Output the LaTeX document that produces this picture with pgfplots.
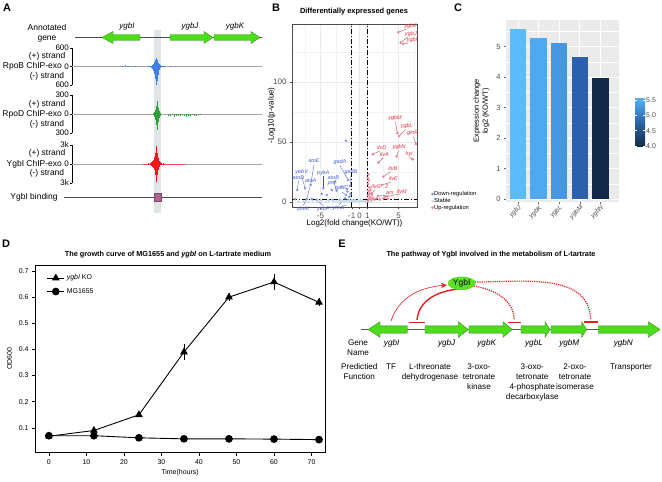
\documentclass[border=0pt]{standalone}
\usepackage{pgfplots}
\pgfplotsset{compat=1.18}
\usepackage{fontspec}
\setmainfont{Liberation Sans}
\setsansfont{Liberation Sans}
\usetikzlibrary{arrows.meta}
\definecolor{ggreen}{HTML}{4BDD1A}
\definecolor{ggreendk}{HTML}{2E8B12}
\definecolor{rpob}{HTML}{3F7FE6}
\definecolor{rpod}{HTML}{2E9E3A}
\definecolor{ygbired}{HTML}{F01818}
\definecolor{bandgray}{HTML}{DFE4E7}
\definecolor{downc}{HTML}{8796E2}
\definecolor{stablec}{HTML}{C9DEEA}
\definecolor{upc}{HTML}{F08298}
\definecolor{labblue}{HTML}{4A62D8}
\definecolor{labred}{HTML}{E23040}
\definecolor{ggpanel}{HTML}{EBEBEB}
\definecolor{gray30}{HTML}{4D4D4D}
\definecolor{barJ}{HTML}{5ABDF9}
\definecolor{barK}{HTML}{4EA9F0}
\definecolor{barL}{HTML}{4597E1}
\definecolor{barM}{HTML}{2A60AC}
\definecolor{barN}{HTML}{13294A}
\definecolor{pathred}{HTML}{E41E1E}
\definecolor{ygbiell}{HTML}{5EE022}
\definecolor{bindbox}{HTML}{B0628F}
\newcommand{\fsz}[1]{\fontsize{#1}{#1}\selectfont}
\newcommand{\garrow}[5]{%
  \filldraw[fill=ggreen, draw=ggreendk, line width=0.35pt]
   (#1,{-#4+0.47*#5}) -- (#2,{-#4+0.47*#5}) -- (#2,{-#4+#5}) -- (#3,{-#4}) --
   (#2,{-#4-#5}) -- (#2,{-#4-0.47*#5}) -- (#1,{-#4-0.47*#5}) -- cycle;}
\pgfplotsset{every axis/.append style={/pgf/number format/assume math mode=true},
  track/.style={scale only axis, width=190bp, xmin=72, xmax=262, hide x axis,
    axis y line*=left, tick align=outside, major tick length=2bp,
    ytick style={black, line width=0.4pt}, y axis line style={line width=0.4pt},
    yticklabel style={font=\fsz{8}, inner sep=1pt}}}
\begin{document}
\begin{tikzpicture}[x=1bp, y=1bp]
\path[use as bounding box, fill=white] (0,0) rectangle (662,-482);
%================ Panel A
\node[font=\fsz{11}\bfseries] at (7,-8) {A};
\fill[bandgray] (154,-30) rectangle (160.5,-213);
\draw[gray!60!black, line width=0.5pt] (75,-37.5) -- (262,-37.5);
\garrow{140}{113}{102}{37.5}{6}
\garrow{170}{204}{213}{37.5}{6}
\garrow{214}{251}{260}{37.5}{6}
\node[font=\fsz{8}\itshape] at (127,-26) {ygbI};
\node[font=\fsz{8}\itshape] at (190,-26) {ygbJ};
\node[font=\fsz{8}\itshape] at (235,-26) {ygbK};
\node[font=\fontsize{8.5}{10}\selectfont, align=center] at (47,-33) {Annotated\\gene};
% RpoB
\begin{axis}[track, at={(72bp,-85bp)}, anchor=south west, height=37bp, ymin=-600, ymax=600,
  ytick={-600,0,600}, yticklabels={600,0,600}]
\addplot[gray!70, line width=0.6pt] coordinates {(72,0) (262,0)};
\addplot[ycomb, rpob, line width=1bp] coordinates {(120,25)(122,15)(125,40)(127,12)(128,22)(131,30)(134,10)(135,18)(138,10)(148,10)(150,22)(151,30)(152,45)(153,75)(154,130)(155,210)(156,290)(157,210)(158,120)(159,70)(160,35)(161,20)(162,12)(165,8)};
\addplot[ycomb, rpob, line width=1bp] coordinates {(149,-15)(150,-25)(151,-40)(152,-70)(153,-130)(154,-250)(155,-420)(156,-600)(157,-470)(158,-260)(159,-120)(160,-60)(161,-30)(163,-15)(170,-8)(175,-10)};
\end{axis}
\node[font=\fsz{8.5}] at (47,-56.5) {(+) strand};
\node[font=\fsz{8.5}, anchor=east, inner sep=0pt] at (62,-66) {RpoB ChIP-exo};
\node[font=\fsz{8.5}] at (47,-76) {(-) strand};
% RpoD
\begin{axis}[track, at={(72bp,-133bp)}, anchor=south west, height=38bp, ymin=-300, ymax=300,
  ytick={-300,0,300}, yticklabels={300,0,300}]
\addplot[gray!70, line width=0.6pt] coordinates {(72,0) (262,0)};
\addplot[ycomb, rpod, line width=1bp] coordinates {(153,15)(154,30)(155,60)(156,120)(157,200)(158,100)(159,45)(160,20)};
\addplot[ycomb, rpod, line width=1bp] coordinates {(153,-20)(154,-40)(155,-90)(156,-170)(157,-260)(158,-130)(159,-60)(160,-25)(168,-25)(170,-35)(172,-20)(174,-40)(176,-30)(178,-25)(180,-35)(182,-20)(184,-30)(186,-40)(188,-25)(190,-30)(192,-20)(194,-35)(196,-25)(198,-20)(200,-15)};
\end{axis}
\node[font=\fsz{8.5}] at (47,-104) {(+) strand};
\node[font=\fsz{8.5}, anchor=east, inner sep=0pt] at (62,-114.3) {RpoD ChIP-exo};
\node[font=\fsz{8.5}] at (47,-124) {(-) strand};
% YgbI
\begin{axis}[track, at={(72bp,-183bp)}, anchor=south west, height=38bp, ymin=-3000, ymax=3000,
  ytick={-3000,0,3000}, yticklabels={3k,0,3k}]
\addplot[gray!70, line width=0.6pt] coordinates {(72,0) (262,0)};
\addplot[ygbired!80, line width=0.6pt] coordinates {(143,0) (185,0)};
\addplot[ycomb, ygbired, line width=1bp] coordinates {(148,100)(150,200)(151,300)(152,450)(153,700)(154,1100)(155,1800)(156,2900)(157,1700)(158,950)(159,550)(160,300)(161,180)(163,100)};
\addplot[ycomb, ygbired, line width=1bp] coordinates {(148,-80)(150,-180)(151,-280)(152,-420)(153,-650)(154,-1000)(155,-1700)(156,-2900)(157,-1800)(158,-900)(159,-450)(160,-220)(161,-120)(163,-60)};
\end{axis}
\node[font=\fsz{8.5}] at (47,-153.3) {(+) strand};
\node[font=\fsz{8.5}, anchor=east, inner sep=0pt] at (62,-164.3) {YgbI ChIP-exo};
\node[font=\fsz{8.5}] at (47,-173.3) {(-) strand};
% binding
\draw[gray!60!black, line width=0.5pt] (64,-197) -- (262,-197);
\filldraw[fill=bindbox, draw=bindbox!70!black, line width=0.3pt] (154,-193) rectangle (161,-201);
\node[font=\fsz{8.5}] at (34,-197) {YgbI binding};
%================ Panel B
\node[font=\fsz{11}\bfseries] at (276,-8) {B};
\node[font=\fsz{7.5}\bfseries] at (354,-12) {Differentially expressed genes};
\begin{axis}[at={(292bp,-207bp)}, anchor=south west, scale only axis, width=125bp, height=183bp,
  xmin=-8.65, xmax=7.37, ymin=-4.2, ymax=148.3, clip=false,
  xtick={-5,-1,0,1,5}, ytick={0,50,100}, minor xtick={-7,-3,3,7}, minor ytick={25,75,125},
  grid=both, major grid style={ggpanel, line width=0.5pt}, minor grid style={ggpanel!60, line width=0.3pt},
  axis line style={gray!60!black, line width=0.5pt}, tick style={gray!60!black, line width=0.4pt},
  tick align=outside, tick pos=left, major tick length=2bp, minor tick length=0pt,
  ticklabel style={font=\fsz{8}, text=gray30},
  xlabel={Log2(fold change(KO/WT))}, ylabel={-Log10(p-value)},
  label style={font=\fsz{8}}, xlabel shift=-5bp, ylabel shift=-9bp,
  legend style={at={(1.09,-0.035)}, anchor=south west, draw=none, fill=none,
    font=\fsz{5.8}, row sep=0pt, nodes={inner sep=0.6pt}},
  legend cell align=left]
\addplot[only marks, mark=*, mark size=1.1, downc] coordinates {(-6.99,11.4)(-6.26,14.2)(-7.97,10)(-8.27,2.3)(-6.77,2.3)(-6.13,2.5)(-5.49,1.7)(-4.85,6.7)(-4.21,5.8)(-3.56,10)(-2.92,9.4)(-2.28,12.8)(-1.73,5.8)(-1.56,8.6)(-1.31,4.4)(-1.86,3.1)(-1.44,1.7)(-1.15,6.7)(-2.5,1.7)(-3.44,1.7)(-1.73,51.1)(-3.14,16.9)(-4.64,11.4)(-1.47,18.3)(-1.22,13.3)(-1.6,10.8)};
\addlegendentry{Down-regulation}
\addplot[only marks, mark=*, mark size=1.1, stablec] coordinates {(-7.8,0.3)(-7.2,0.6)(-6.5,0.2)(-6.0,0.9)(-5.4,0.4)(-4.8,0.7)(-4.3,0.2)(-3.9,1.0)(-3.4,0.5)(-3.0,0.8)(-2.7,0.3)(-2.4,1.1)(-2.1,0.6)(-1.9,0.2)(-1.7,0.9)(-1.5,0.4)(-1.3,1.2)(-1.1,0.7)(-0.9,0.3)(-0.7,1.0)(-0.5,0.5)(-0.3,0.9)(-0.1,0.2)(0.1,0.6)(0.3,1.1)(0.5,0.4)(0.7,0.8)(0.9,0.2)(1.1,0.5)(1.3,0.9)(1.6,0.3)(-0.6,2.0)(0.2,1.8)(-1.0,1.6)(-4,1.5)(-5,1.2)};
\addlegendentry{Stable}
\addplot[only marks, mark=*, mark size=1.1, upc] coordinates {(4.97,141.4)(5.28,132.8)(5.58,131.7)(4.85,57.3)(5.10,55)(7.24,48.3)(4.77,37.8)(6.82,35.6)(1.69,39.8)(2.41,32.8)(3.05,21.1)(2.85,14.2)(1.56,7.2)(2.37,5)(3.27,4.2)(1.05,1)(1.2,2.5)(1.35,4)(1.1,5.5)(1.5,2)(1.7,3.5)(1.3,7)(1.15,9)(1.25,12)(1.1,15)(1.2,18)(1.4,10)(1.9,2)(2.2,3)(1.6,6)(2.6,2)(3.1,3)(3.6,2.5)(1.05,20)(1.15,23)};
\addlegendentry{Up-regulation}
\addplot[forget plot, black, line width=1.4pt, dash pattern=on 5pt off 2pt on 1.2pt off 2pt] coordinates {(-1,-4.2)(-1,148.3)};
\addplot[forget plot, black, line width=1.4pt, dash pattern=on 5pt off 2pt on 1.2pt off 2pt] coordinates {(1,-4.2)(1,148.3)};
\addplot[forget plot, black, line width=1.4pt, dash pattern=on 5pt off 2pt on 1.2pt off 2pt] coordinates {(-8.65,2)(7.37,2)};
% connectors blue
\draw[labblue!80!black, line width=0.3pt] (axis cs:-5.83,31) -- (axis cs:-6.26,14.2);
\draw[labblue!80!black, line width=0.3pt] (axis cs:-7.41,22) -- (axis cs:-6.99,11.4);
\draw[labblue!80!black, line width=0.3pt] (axis cs:-7.82,17.5) -- (axis cs:-7.97,10);
\draw[labblue!80!black, line width=0.3pt] (axis cs:-6.26,14.8) -- (axis cs:-6.77,2.5);
\draw[labblue!80!black, line width=0.3pt] (axis cs:-4.64,21.4) -- (axis cs:-4.64,11.4);
\draw[labblue!80!black, line width=0.3pt] (axis cs:-2.5,30.3) -- (axis cs:-1.47,18.3);
\draw[labblue!80!black, line width=0.3pt] (axis cs:-1.09,22) -- (axis cs:-1.22,13.3);
\draw[labblue!80!black, line width=0.3pt] (axis cs:-3.36,17.6) -- (axis cs:-2.92,9.4);
\draw[labblue!80!black, line width=0.3pt] (axis cs:-2.28,8.4) -- (axis cs:-1.73,5.8);
\draw[labblue!80!black, line width=0.3pt] (axis cs:-7.21,-3) -- (axis cs:-6.77,2.3);
\draw[labblue!80!black, line width=0.3pt] (axis cs:-4.64,-3) -- (axis cs:-5.49,1.7);
\draw[labblue!80!black, line width=0.3pt] (axis cs:-2.59,-2.3) -- (axis cs:-1.86,3.1);
% connectors red
\draw[labred!80!black, line width=0.3pt] (axis cs:6.0,144) -- (axis cs:4.97,141.4);
\draw[labred!80!black, line width=0.3pt] (axis cs:6.2,137.5) -- (axis cs:5.28,132.8);
\draw[labred!80!black, line width=0.3pt] (axis cs:6.3,132.5) -- (axis cs:5.58,131.7);
\draw[labred!80!black, line width=0.3pt] (axis cs:4.6,67) -- (axis cs:4.85,57.3);
\draw[labred!80!black, line width=0.3pt] (axis cs:5.9,60.5) -- (axis cs:5.10,55);
\draw[labred!80!black, line width=0.3pt] (axis cs:6.9,54.5) -- (axis cs:7.24,48.3);
\draw[labred!80!black, line width=0.3pt] (axis cs:5.0,42.8) -- (axis cs:4.77,37.8);
\draw[labred!80!black, line width=0.3pt] (axis cs:6.4,37.2) -- (axis cs:6.82,35.6);
\draw[labred!80!black, line width=0.3pt] (axis cs:2.6,42.5) -- (axis cs:1.69,39.8);
\draw[labred!80!black, line width=0.3pt] (axis cs:3.0,36.4) -- (axis cs:2.41,32.8);
\draw[labred!80!black, line width=0.3pt] (axis cs:4.0,25.2) -- (axis cs:3.05,21.1);
\draw[labred!80!black, line width=0.3pt] (axis cs:4.0,16.4) -- (axis cs:2.85,14.2);
\draw[labred!80!black, line width=0.3pt] (axis cs:2.0,10) -- (axis cs:1.56,7.2);
\draw[labred!80!black, line width=0.3pt] (axis cs:3.7,5.5) -- (axis cs:2.37,5);
\draw[labred!80!black, line width=0.3pt] (axis cs:5.2,6.8) -- (axis cs:3.27,4.2);
% labels
\begin{scope}[every node/.style={font=\fsz{5.5}\itshape, inner sep=0pt, text=labblue}]
\node at (axis cs:-5.83,34.4) {atoE};
\node at (axis cs:-7.41,25.3) {yebV};
\node at (axis cs:-7.82,20.6) {atoD};
\node at (axis cs:-6.26,17.8) {atoA};
\node at (axis cs:-4.64,24.4) {pykA};
\node at (axis cs:-2.5,33.3) {gadA};
\node at (axis cs:-1.09,25) {gadB};
\node at (axis cs:-3.36,20.6) {atoB};
\node at (axis cs:-3.56,16.1) {prd};
\node at (axis cs:-2.28,11.4) {gadC};
\node at (axis cs:-7.21,-6.1) {ybeK};
\node at (axis cs:-4.64,-6.1) {yebF};
\node at (axis cs:-2.59,-5.3) {ymdF};
\end{scope}
\begin{scope}[every node/.style={font=\fsz{5.5}\itshape, inner sep=0pt, text=labred}]
\node at (axis cs:6.54,146.7) {ygbK};
\node at (axis cs:6.6,140) {ygbJ};
\node at (axis cs:6.73,135) {ygbI};
\node at (axis cs:4.55,70) {ygbM};
\node at (axis cs:6.05,63.3) {ygbL};
\node at (axis cs:6.82,57.3) {glnR};
\node at (axis cs:5.10,45.6) {ygbN};
\node at (axis cs:6.35,40) {hyi};
\node at (axis cs:2.85,45.3) {ilvD};
\node at (axis cs:3.18,39.2) {ilvA};
\node at (axis cs:4.26,28) {ilvB};
\node at (axis cs:4.33,19.2) {ilvE};
\node at (axis cs:2.12,12.8) {ilvG};
\node at (axis cs:3.49,12.8) {2};
\node at (axis cs:3.91,7.2) {ars};
\node at (axis cs:5.41,8.6) {ilvM};
\end{scope}
\end{axis}
%================ Panel C
\node[font=\fsz{11}\bfseries] at (458,-8) {C};
\begin{axis}[at={(506bp,-201.7bp)}, anchor=south west, scale only axis, width=113bp, height=181.7bp,
  xmin=-0.58, xmax=4.9, ymin=-0.09, ymax=5.87,
  axis background/.style={fill=ggpanel}, axis line style={draw=none},
  xtick={0,1,2,3,4}, xticklabels={ygbJ,ygbK,ygbL,ygbM,ygbN},
  ytick={0,1,2,3,4,5}, minor ytick={0.5,1.5,2.5,3.5,4.5,5.5},
  grid=both, major grid style={white, line width=0.8pt}, minor grid style={white, line width=0.4pt},
  tick pos=left, tick align=outside, major tick length=2bp, minor tick length=0pt,
  tick style={gray!80!black, line width=0.4pt},
  xticklabel style={font=\fsz{6.5}\itshape, text=gray30, rotate=45, anchor=north east, inner sep=0.5pt},
  yticklabel style={font=\fsz{7.5}, text=gray30},
  ylabel={Expression change\\log2 (KO/WT)},
  ylabel style={font=\fontsize{7.5}{9}\selectfont, align=center},
  colormap={ggblue}{rgb255=(19,43,67) rgb255=(44,100,168) rgb255=(86,177,247)},
  point meta min=3.96, point meta max=5.58,
  colorbar,
  colorbar style={at={(parent axis.north east)}, anchor=north west, xshift=7.5bp, yshift=-78bp,
    scale only axis, width=10bp, height=49bp, axis line style={draw=none},
    ytick={4,4.5,5,5.5}, yticklabels={4.0,4.5,5.0,5.5},
    yticklabel style={font=\fsz{7}, text=gray30, inner sep=1pt},
    major tick length=2bp, ytick style={white, line width=0.4pt}}]
\addplot[ybar, bar shift=0pt, bar width=0.79, fill=barJ, draw=none] coordinates {(0,5.58)};
\addplot[ybar, bar shift=0pt, bar width=0.79, fill=barK, draw=none] coordinates {(1,5.29)};
\addplot[ybar, bar shift=0pt, bar width=0.79, fill=barL, draw=none] coordinates {(2,5.12)};
\addplot[ybar, bar shift=0pt, bar width=0.79, fill=barM, draw=none] coordinates {(3,4.65)};
\addplot[ybar, bar shift=0pt, bar width=0.79, fill=barN, draw=none] coordinates {(4,3.96)};
\end{axis}
%================ Panel D
\node[font=\fsz{11}\bfseries] at (6,-244) {D};
\node[font=\fsz{7.3}\bfseries] at (168,-255) {The growth curve of MG1655 and \textit{ygbI} on L-tartrate medium};
\begin{axis}[at={(35bp,-452.7bp)}, anchor=south west, scale only axis, width=290bp, height=187.7bp,
  xmin=-3.7, xmax=73.6, ymin=0.005, ymax=0.723,
  xtick={0,10,20,30,40,50,60,70}, ytick={0.1,0.2,0.3,0.4,0.5,0.6,0.7},
  yticklabels={0.1,0.2,0.3,0.4,0.5,0.6,0.7},
  tick pos=left, tick align=outside, major tick length=3bp,
  axis line style={line width=0.5pt}, tick style={line width=0.5pt, black},
  ticklabel style={font=\fsz{7}},
  xlabel={Time(hours)}, ylabel={OD600}, label style={font=\fsz{7}}, xlabel shift=-2bp,
  legend style={at={(0.03,0.97)}, anchor=north west, draw=none, fill=none, font=\fsz{7}, row sep=3pt},
  legend cell align=left]
\addplot[black, line width=0.9pt, mark=triangle*, mark size=3.6,
  error bars/.cd, y dir=both, y explicit, error mark=none, error bar style={line width=0.8pt}]
  coordinates {(0,0.068) +- (0,0.005) (12,0.09) +- (0,0.006) (24,0.15) +- (0,0.008) (36,0.39) +- (0,0.03) (48,0.60) +- (0,0.015) (60,0.658) +- (0,0.03) (72,0.58) +- (0,0.015)};
\addlegendentry{\textit{ygbI} KO}
\addplot[black, line width=0.9pt, mark=*, mark size=3.4,
  error bars/.cd, y dir=both, y explicit, error mark=none, error bar style={line width=0.8pt}]
  coordinates {(0,0.07) +- (0,0.005) (12,0.07) +- (0,0.005) (24,0.062) +- (0,0.005) (36,0.058) +- (0,0.012) (48,0.058) +- (0,0.01) (60,0.057) +- (0,0.006) (72,0.055) +- (0,0.005)};
\addlegendentry{MG1655}
\end{axis}
%================ Panel E
\node[font=\fsz{11}\bfseries] at (342,-244) {E};
\node[font=\fsz{7.3}\bfseries] at (491,-255) {The pathway of YgbI involved in the metabolism of L-tartrate};
\draw[gray!70!black, line width=0.8pt] (360.7,-329.5) -- (660,-329.5);
\garrow{407.3}{380}{368.3}{329.5}{7.8}
\garrow{425}{458.3}{468.3}{329.5}{7.8}
\garrow{469}{503}{512.3}{329.5}{7.8}
\garrow{521}{545}{550}{329.5}{7.8}
\garrow{551}{581.7}{586.7}{329.5}{7.8}
\garrow{598.3}{648.3}{660}{329.5}{7.8}
\draw[pathred, line width=0.6pt, -{Stealth[length=6bp,width=5bp]}] (391,-321) to[out=72, in=185] (447,-285);
\draw[pathred, line width=1.4pt] (459,-289) to[out=185, in=85] (417,-320);
\draw[pathred, line width=1.4pt] (409,-322.8) -- (425,-322.8);
\draw[pathred, line width=1.2pt, densely dotted] (474,-286) to[out=-10, in=92] (514.3,-320);
\draw[pathred, line width=1.4pt] (508,-322.5) -- (520.5,-322.5);
\draw[pathred, line width=1.2pt, densely dotted] (475,-282) to[out=0, in=92] (590.7,-319.5);
\draw[pathred, line width=1.4pt] (583.5,-322) -- (598,-322);
\fill[ygbiell] (461.7,-283.3) ellipse [x radius=14, y radius=6.7];
\node[font=\fsz{8.5}] at (461.7,-283.3) {YgbI};
\begin{scope}[every node/.style={font=\fontsize{8.2}{10}\selectfont, align=center, anchor=north, inner sep=0pt}]
\node at (358,-339.5) {Gene\\Name};
\node[font=\fontsize{8.2}{10}\selectfont\itshape] at (391.7,-339.5) {ygbI};
\node[font=\fontsize{8.2}{10}\selectfont\itshape] at (446.7,-339.5) {ygbJ};
\node[font=\fontsize{8.2}{10}\selectfont\itshape] at (486.7,-339.5) {ygbK};
\node[font=\fontsize{8.2}{10}\selectfont\itshape] at (534,-339.5) {ygbL};
\node[font=\fontsize{8.2}{10}\selectfont\itshape] at (569.3,-339.5) {ygbM};
\node[font=\fontsize{8.2}{10}\selectfont\itshape] at (623.3,-339.5) {ygbN};
\node at (359.3,-363.5) {Predictied\\Function};
\node at (391,-363.5) {TF};
\node at (430,-363.5) {L-threonate\\dehydrogenase};
\node at (479,-363.5) {3-oxo-\\tetronate\\kinase};
\node at (532.3,-363.5) {3-oxo-\\tetronate\\4-phosphate\\decarboxylase};
\node at (575,-363.5) {2-oxo-\\tetronate\\isomerase};
\node at (631,-363.5) {Transporter};
\end{scope}
\end{tikzpicture}
\end{document}
